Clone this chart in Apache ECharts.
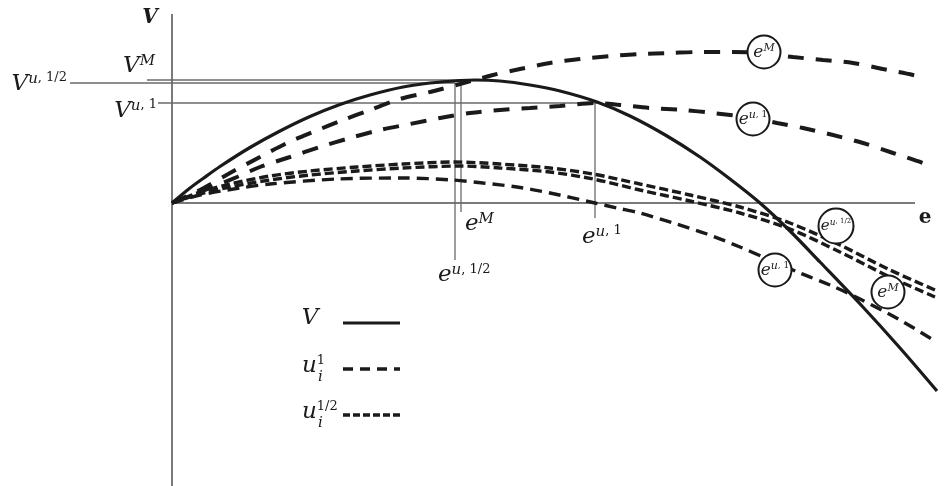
<!DOCTYPE html>
<html>
<head>
<meta charset="utf-8">
<title>V and u_i curves</title>
<script src="https://cdn.jsdelivr.net/npm/echarts@6/dist/echarts.min.js"></script>
<style>
  html, body { margin: 0; padding: 0; background: #fff; }
  #chart { width: 950px; height: 486px; }
</style>
</head>
<body>
<div id="chart"></div>
<script>
// all points are [e, V]
const curveV = [[0,0],[1.8,1.5],[3.1,2.45],[4.8,3.65],[7.8,5.55],[10.8,7.2],[13.8,8.65],[16.8,9.85],[19.8,10.8],[23.1,11.6],[25.8,12.0],[28.8,12.25],[30.3,12.3],[32.8,12.2],[35.8,11.8],[38.8,11.2],[42.5,10.1],[45.8,8.7],[49.5,6.7],[52.8,4.6],[55.8,2.4],[58.8,0.0],[61.8,-2.8],[64.8,-5.9],[69.0,-10.3],[72.8,-14.5],[76.5,-18.8]]
// u_i^1 at e^M (top long-dash curve)
const curveU1M = [[0,0],[2.8,1.3],[5.8,3.0],[8.8,4.6],[11.5,6.0],[14.1,7.1],[17.1,8.3],[19.8,9.3],[22.8,10.4],[25.8,11.1],[28.8,11.9],[32.1,12.8],[34.8,13.4],[37.8,14.0],[40.8,14.4],[43.8,14.7],[46.8,14.9],[49.8,15.0],[52.8,15.1],[55.8,15.1],[58.8,15.0],[62.1,14.6],[65.1,14.3],[68.1,14.0],[71.1,13.4],[74.1,12.8],[75.3,12.5]]
// u_i^1 at e^{u,1}
const curveU1U1 = [[0,0],[2.8,1.1],[6.5,2.6],[8.8,3.6],[11.8,4.6],[14.8,5.6],[17.8,6.5],[20.8,7.3],[23.8,7.9],[26.8,8.5],[29.8,9.0],[32.8,9.3],[35.8,9.5],[38.8,9.7],[42.5,10.0],[44.8,9.8],[47.8,9.5],[51.1,9.3],[54.1,9.0],[58.0,8.5],[60.5,8.0],[63.1,7.5],[66.1,6.8],[69.1,6.0],[72.1,5.0],[75.1,4.0],[75.8,3.7]]
// u_i^1/2 pair (e^{u,1/2} and e^M)
const curveU12A = [[0,0],[2.8,1.1],[5.8,1.9],[9.8,2.7],[13.8,3.2],[18.5,3.6],[23.1,3.9],[28.3,4.1],[32.8,3.9],[37.8,3.5],[42.1,2.9],[46.8,1.9],[51.8,0.8],[56.8,-0.4],[61.8,-2.0],[66.8,-4.2],[71.8,-6.7],[76.3,-8.7]]
const curveU12B = [[0,0],[2.8,0.9],[5.8,1.6],[9.8,2.3],[13.8,2.8],[18.5,3.2],[23.1,3.5],[28.8,3.7],[32.8,3.5],[37.8,3.1],[42.1,2.4],[46.8,1.3],[51.8,0.2],[56.8,-1.0],[61.8,-2.6],[66.8,-4.9],[71.8,-7.4],[76.3,-9.4]]
// lowest curve, at e^{u,1}
const curveLow = [[0,0],[2.8,0.8],[6.8,1.5],[9.8,1.9],[16.5,2.4],[23.1,2.5],[28.1,2.3],[31.1,2.0],[34.5,1.6],[37.8,1.0],[42.3,0],[44.5,-0.5],[46.8,-1.0],[50.1,-2.0],[53.5,-3.1],[56.8,-4.4],[59.8,-5.7],[62.8,-7.0],[65.8,-8.2],[68.8,-9.6],[72.8,-11.7],[76.3,-13.8]]

// marked levels
const levelVM = 12.3, levelVU12 = 12.0, levelVU1 = 10.0
const eU12 = 28.3, eM = 28.9, eU1 = 42.3

const serif = 'DejaVu Serif'
const ink = '#1a1a1a'
const guide = '#6a6a6a'

function seg(a, b, color, width, type) {
  return {
    type: 'line', data: [a, b], symbol: 'none', silent: true, z: 1,
    lineStyle: { color: color, width: width, type: type || 'solid' }
  }
}
function curve(data, width, dash) {
  return {
    type: 'line', data: data, smooth: 0.3, symbol: 'none', silent: true, z: 3,
    lineStyle: { color: ink, width: width, type: dash, cap: 'butt' }
  }
}

function txt(o) {
  return Object.assign({ fontFamily: serif, color: ink, textBorderWidth: 0, textShadowBlur: 0 }, o)
}
const rich = {
  b: txt({ fontStyle: 'italic', fontSize: 23, verticalAlign: 'bottom', lineHeight: 24 }),
  bb: txt({ fontStyle: 'italic', fontWeight: 'bold', fontSize: 20 }),
  e: txt({ fontWeight: 'bold', fontSize: 20 }),
  su: txt({ fontStyle: 'italic', fontSize: 15, verticalAlign: 'top', lineHeight: 17 }),
  sn: txt({ fontSize: 13, verticalAlign: 'top', lineHeight: 17 }),
  ce: txt({ fontStyle: 'italic', fontSize: 17, verticalAlign: 'bottom', lineHeight: 18 }),
  cs: txt({ fontStyle: 'italic', fontSize: 11, verticalAlign: 'top', lineHeight: 13 }),
  cn: txt({ fontSize: 9, verticalAlign: 'top', lineHeight: 13 }),
  ce2: txt({ fontStyle: 'italic', fontSize: 15, verticalAlign: 'bottom', lineHeight: 16 }),
  cs2: txt({ fontStyle: 'italic', fontSize: 9, verticalAlign: 'top', lineHeight: 11 }),
  cn2: txt({ fontSize: 7, verticalAlign: 'top', lineHeight: 11 }),
  sub: txt({ fontStyle: 'italic', fontSize: 15 })
}

// text notes: [text, e, V, align]
const notes = [
  ['{bb|V}', -2.2, 18.5, 'center'],
  ['{b|V}{su|M}', -1.7, 13.75, 'right'],
  ['{b|V}{su|u}{sn|, 1/2}', -10.5, 11.95, 'right'],
  ['{b|V}{su|u}{sn|, 1}', -1.5, 9.25, 'right'],
  ['{e|e}', 75.3, -1.5, 'center'],
  ['{b|e}{su|M}', 29.3, -2.05, 'left'],
  ['{b|e}{su|u}{sn|, 1}', 41.0, -3.35, 'left'],
  ['{b|e}{su|u}{sn|, 1/2}', 26.6, -7.2, 'left'],
  ['{b|V}', 13.8, -11.5, 'center'],
  ['{b|u}{sn|1}', 13.0, -16.3, 'left'],
  ['{sub|i}', 14.6, -17.4, 'left'],
  ['{b|u}{sn|1/2}', 13.0, -20.9, 'left'],
  ['{sub|i}', 14.6, -22.0, 'left']
]
// circled tags: [text, e, V, size]
const tags = [
  ['{ce|e}{cs|M}', 59.2, 15.1, 33],
  ['{ce|e}{cs|u}{cn|, 1}', 58.1, 8.4, 33],
  ['{ce2|e}{cs2|u}{cn2|, 1/2}', 66.4, -2.3, 35],
  ['{ce|e}{cs|u}{cn|, 1}', 60.3, -6.7, 33],
  ['{ce|e}{cs|M}', 71.6, -8.9, 33]
]

// legend swatches: [eStart, eEnd, V]
const keyV = [17.1, 22.8, -12.0]
const keyU1 = [17.1, 22.8, -16.6]
const keyU12 = [17.1, 22.8, -21.2]

const chart = echarts.init(document.getElementById('chart'))
const series = [
  // axes
  seg([0, 18.9], [0, -28.3], '#7a7a7a', 2),
  seg([0, 0], [74.3, 0], '#7a7a7a', 2),
  // guide lines
  seg([-2.5, levelVM], [29.8, levelVM], guide, 1.3),
  seg([-10.2, levelVU12], [eU12, levelVU12], guide, 1.3),
  seg([-1.4, levelVU1], [42.5, levelVU1], guide, 1.3),
  seg([eU12, levelVU12], [eU12, -5.7], guide, 1.3),
  seg([eM, levelVM], [eM, -0.9], guide, 1.3),
  seg([eU1, levelVU1], [eU1, -1.5], guide, 1.3),
  // curves
  curve(curveV, 3.2, 'solid'),
  curve(curveU1M, 4, [16, 12]),
  curve(curveU1U1, 4, [16, 12]),
  curve(curveU12A, 3.4, [9, 4]),
  curve(curveU12B, 3.4, [9, 4]),
  curve(curveLow, 3.4, [12, 7]),
  // legend swatches
  Object.assign(seg([keyV[0], keyV[2]], [keyV[1], keyV[2]], ink, 3.2), { z: 3 }),
  Object.assign(seg([keyU1[0], keyU1[2]], [keyU1[1], keyU1[2]], ink, 3.5, [10, 7]), { z: 3 }),
  Object.assign(seg([keyU12[0], keyU12[2]], [keyU12[1], keyU12[2]], ink, 3.5, [7, 3]), { z: 3 }),
  {
    type: 'scatter', silent: true, z: 6, symbolSize: 0,
    itemStyle: { opacity: 1 },
    data: notes.map(n => ({
      value: [n[1], n[2]],
      label: { show: true, position: 'inside', formatter: n[0], align: n[3], verticalAlign: 'middle',
        color: ink, textBorderWidth: 0, rich: rich }
    }))
  },
  {
    type: 'scatter', silent: true, z: 5,
    itemStyle: { opacity: 1 },
    data: tags.map(t => ({
      value: [t[1], t[2]], symbolSize: t[3],
      itemStyle: { color: '#fff', borderColor: ink, borderWidth: 2, opacity: 1 },
      label: { show: true, position: 'inside', formatter: t[0], color: ink, textBorderWidth: 0, rich: rich }
    }))
  }
]

chart.setOption({
  animation: false,
  backgroundColor: '#fff',
  grid: { left: 0, right: 0, top: 0, bottom: 0 },
  xAxis: { type: 'value', min: -17.2, max: 77.8, show: false },
  yAxis: { type: 'value', min: -28.3, max: 20.3, show: false },
  series: series
})
</script>
</body>
</html>
